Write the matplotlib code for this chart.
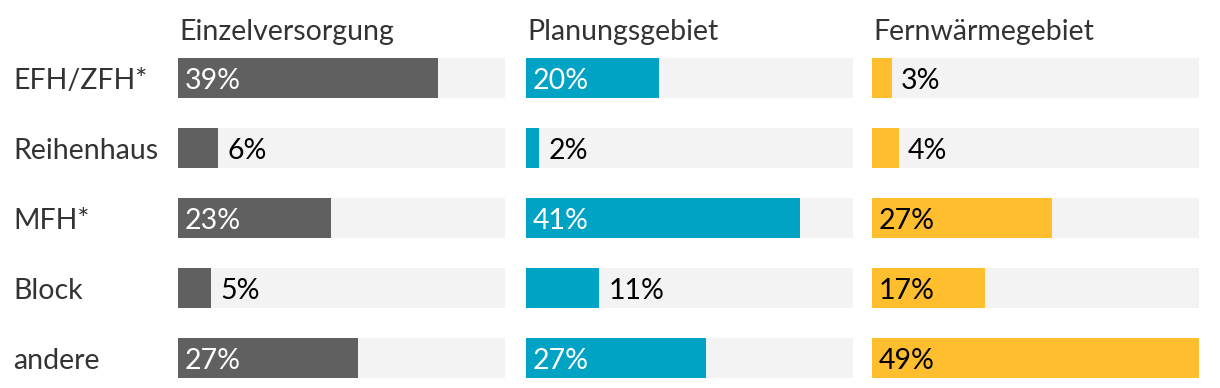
import matplotlib
matplotlib.use('Agg')
import matplotlib.pyplot as plt
import matplotlib.transforms as mtransforms

plt.rcParams['font.family'] = ['Lato', 'DejaVu Sans']

# Daten
kategorien = ['EFH/ZFH*', 'Reihenhaus', 'MFH*', 'Block', 'andere']
titel = ['Einzelversorgung', 'Planungsgebiet', 'Fernwärmegebiet']
einzelversorgung = [39, 6, 23, 5, 27]
planungsgebiet = [20, 2, 41, 11, 27]
fernwaermegebiet = [3, 4, 27, 17, 49]
werte = [einzelversorgung, planungsgebiet, fernwaermegebiet]

farben = ['#606060', '#00A3C4', '#FFBE2E']
textfarben_innen = ['white', 'white', 'black']
hintergrund = '#F3F3F3'

W, H = 1220, 388
fig = plt.figure(figsize=(W / 100, H / 100), dpi=100)

# Panel-Positionen in Pixeln
x_links = [178, 526, 872]
breite = 327
y_oben, y_unten = 58, 378
bar_h = 40 / 70
x_max = 49

fs = 20.5
baseline_off = -11  # Grundlinie etwas unter der Balkenmitte

for p in range(3):
    ax = fig.add_axes([x_links[p] / W, 1 - y_unten / H, breite / W, (y_unten - y_oben) / H])
    ax.set_xlim(0, x_max)
    ax.set_ylim(4 + bar_h / 2, -bar_h / 2)
    ax.axis('off')
    ax.barh(range(5), [x_max] * 5, height=bar_h, color=hintergrund, left=0)
    ax.barh(range(5), werte[p], height=bar_h, color=farben[p])
    for i, v in enumerate(werte[p]):
        if v >= 15:
            tr = mtransforms.offset_copy(ax.transData, fig=fig, x=7, y=baseline_off, units='dots')
            ax.text(0, i, f'{v}%', transform=tr, va='baseline', ha='left',
                    color=textfarben_innen[p], fontsize=fs)
        else:
            tr = mtransforms.offset_copy(ax.transData, fig=fig, x=9, y=baseline_off, units='dots')
            ax.text(v, i, f'{v}%', transform=tr, va='baseline', ha='left',
                    color='black', fontsize=fs)
    fig.text((x_links[p] + 1) / W, 1 - 40 / H, titel[p], ha='left', va='baseline',
             fontsize=fs, color='#333333')

# Kategorien
for i, k in enumerate(kategorien):
    fig.text(13 / W, 1 - (78 + 70 * i + 11) / H, k, ha='left', va='baseline',
             fontsize=fs, color='#333333')

fig.savefig('out.png', dpi=100)
